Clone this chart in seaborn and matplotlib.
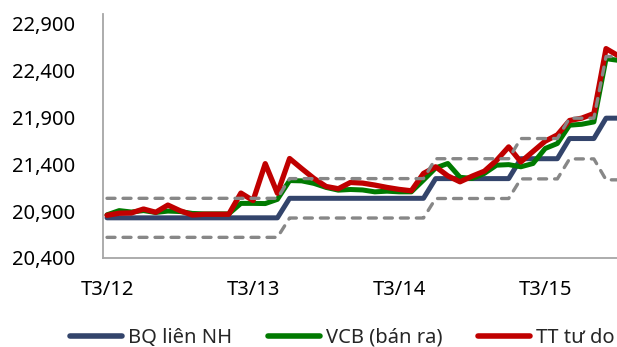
import matplotlib
matplotlib.use("Agg")
import matplotlib.pyplot as plt
from matplotlib.lines import Line2D
import seaborn as sns
import pandas as pd

# Monthly observations, March 2012 through September 2015
tick_labels = ["T3/12", "T3/13", "T3/14", "T3/15"]
tick_months = [0, 12, 24, 36]

bq_lien_nh = [20828] * 15 + [21036] * 12 + [21246] * 7 + [21458] * 4 + [21673] * 3 + [21890] * 2
bien_tren = [21036] * 15 + [21246] * 12 + [21458] * 7 + [21673] * 4 + [21890] * 3 + [22547] * 2
bien_duoi = [20620] * 15 + [20826] * 12 + [21034] * 7 + [21243] * 4 + [21456] * 3 + [21233] * 2

vcb_ban_ra = [20860, 20905, 20890, 20905, 20885, 20900, 20895, 20875, 20870, 20870,
              20870, 20982, 20982, 20980, 21025, 21225, 21222, 21195, 21152, 21123,
              21130, 21125, 21105, 21112, 21105, 21105, 21230, 21360, 21407, 21260,
              21248, 21301, 21389, 21395, 21372, 21407, 21567, 21620, 21815, 21825,
              21850, 22524, 22506]

tt_tu_do = [20855, 20877, 20880, 20922, 20887, 20964, 20904, 20858, 20866, 20866,
            20866, 21092, 21012, 21405, 21090, 21460, 21352, 21248, 21162, 21138,
            21205, 21198, 21177, 21152, 21131, 21116, 21301, 21372, 21275, 21212,
            21272, 21325, 21440, 21584, 21424, 21535, 21645, 21712, 21865, 21890,
            21939, 22631, 22555]

df = pd.DataFrame({
    "thang": range(len(tt_tu_do)),
    "bq": bq_lien_nh,
    "vcb": vcb_ban_ra,
    "tudo": tt_tu_do,
    "tren": bien_tren,
    "duoi": bien_duoi,
})

sns.set_theme(style="white")
plt.rcParams["font.family"] = ["Noto Sans", "DejaVu Sans"]

NAVY = "#33446B"
GREEN = "#007A00"
RED = "#C00000"
GRAY = "#878787"

fig = plt.figure(figsize=(6.17, 3.47), dpi=100)
ax = fig.add_axes([103 / 617, 89 / 347, 514 / 617, 244 / 347])

common = dict(ax=ax, legend=False, solid_joinstyle="round", solid_capstyle="round")
sns.lineplot(data=df, x="thang", y="bq", color=NAVY, linewidth=3.6, **common)
sns.lineplot(data=df, x="thang", y="vcb", color=GREEN, linewidth=3.6, **common)
sns.lineplot(data=df, x="thang", y="tudo", color=RED, linewidth=3.8, **common)
for col in ["tren", "duoi"]:
    sns.lineplot(data=df, x="thang", y=col, ax=ax, legend=False, color=GRAY,
                 linewidth=2.4, linestyle=(0, (2.4, 2.4)), dash_capstyle="round")

ax.set_xlim(-0.33, 41.9)
ax.set_ylim(20400, 23000)
ax.set_yticks(range(20400, 23000, 500))
ax.set_yticklabels([f"{v:,}" for v in range(20400, 23000, 500)])
ax.set_xticks(tick_months)
ax.set_xticklabels(tick_labels)
ax.set_xlabel("")
ax.set_ylabel("")
ax.tick_params(axis="both", length=0, labelsize=14.5, colors="black")
ax.tick_params(axis="y", pad=20)
ax.tick_params(axis="x", pad=16)
for side in ["top", "right"]:
    ax.spines[side].set_visible(False)
for side in ["left", "bottom"]:
    ax.spines[side].set_color("#A6A6A6")
    ax.spines[side].set_linewidth(1.3)

handles = [
    Line2D([], [], color=NAVY, linewidth=4, solid_capstyle="round"),
    Line2D([], [], color=GREEN, linewidth=4, solid_capstyle="round"),
    Line2D([], [], color=RED, linewidth=4, solid_capstyle="round"),
]
fig.legend(handles, ["BQ liên NH", "VCB (bán ra)", "TT tư do"],
           loc="center left", bbox_to_anchor=(70 / 617, 9 / 347), ncol=3,
           frameon=False, fontsize=14.5, handlelength=2.6, handletextpad=0.3,
           columnspacing=1.75, borderpad=0, borderaxespad=0)

fig.savefig("out.png", dpi=100)
